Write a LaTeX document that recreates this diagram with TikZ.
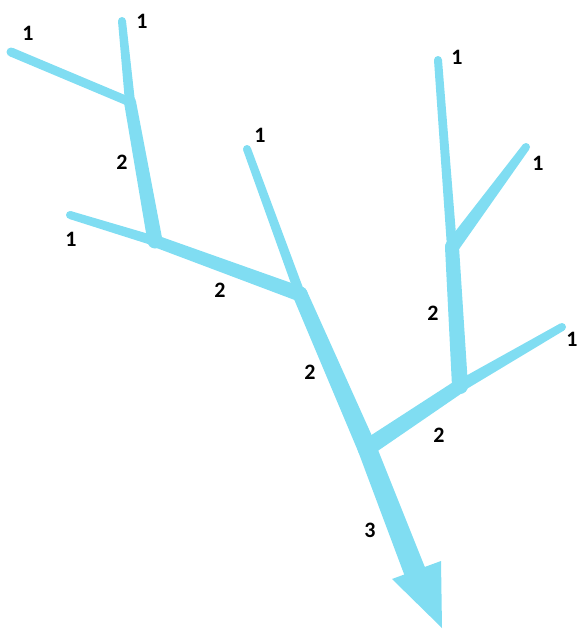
\documentclass[tikz,border=0pt]{standalone}
\usepackage{fontspec}
\setmainfont{Carlito}
\usetikzlibrary{calc}
\definecolor{rivercol}{RGB}{128,221,242}
\tikzset{
  river/.style={fill=rivercol,draw=none},
  lbl/.style={font=\bfseries\fontsize{22}{22}\selectfont,inner sep=0pt,text=black}
}
% tapered segment: from #1 (width #3) to #2 (width #4)
\newcommand\taperseg[4]{%
  \fill[river] ($(#1)!{#3*0.5pt}!90:(#2)$) -- ($(#2)!{#4*0.5pt}!-90:(#1)$)
     -- ($(#2)!{#4*0.5pt}!90:(#1)$) -- ($(#1)!{#3*0.5pt}!-90:(#2)$) -- cycle;
  \fill[river] (#1) circle[radius=#3*0.5pt];
  \fill[river] (#2) circle[radius=#4*0.5pt];
}
\begin{document}
\begin{tikzpicture}[x=1pt,y=-1pt]
\useasboundingbox (0,0) rectangle (579,629);
% points
\coordinate (a1) at (11,52);
\coordinate (a2) at (122,21);
\coordinate (j1) at (130,102);
\coordinate (a3) at (70,215);
\coordinate (j2) at (155,241);
\coordinate (a4) at (247,149);
\coordinate (j3) at (300,294);
\coordinate (j4) at (367,448);
\coordinate (s) at (415,572);
\coordinate (b1) at (438,60);
\coordinate (b2) at (526,147);
\coordinate (j5) at (452,247);
\coordinate (b3) at (562,327);
\coordinate (j6) at (460,386);
% left tree
\taperseg{a1}{j1}{9}{9}
\taperseg{a2}{j1}{8}{10}
\taperseg{j1}{j2}{12}{15}
\taperseg{a3}{j2}{8}{10}
\taperseg{j2}{j3}{12}{15}
\taperseg{a4}{j3}{8}{10}
\taperseg{j3}{j4}{15}{19}
% right tree
\taperseg{b1}{j5}{8}{10}
\taperseg{b2}{j5}{8}{14}
\taperseg{j5}{j6}{14}{16}
\taperseg{b3}{j6}{8}{12}
\taperseg{j6}{j4}{14}{17}
% main trunk and arrow
\taperseg{j4}{s}{19}{22}
\coordinate (hl) at (392,579);
\coordinate (hr) at (441,561);
\coordinate (ht) at (442,628);
\fill[river] (hl) -- (hr) -- (ht) -- cycle;
% labels
\node[lbl] (l1) at (28,33) {1};
\node[lbl] (l2) at (142,21) {1};
\node[lbl] (l3) at (122,162) {2};
\node[lbl] (l4) at (71,239) {1};
\node[lbl] (l5) at (260,135) {1};
\node[lbl] (l6) at (220,290) {2};
\node[lbl] (l7) at (310,372) {2};
\node[lbl] (l8) at (370,530) {3};
\node[lbl] (l9) at (457,57) {1};
\node[lbl] (l10) at (538,163) {1};
\node[lbl] (l11) at (433,313) {2};
\node[lbl] (l12) at (572,339) {1};
\node[lbl] (l13) at (439,435) {2};
\end{tikzpicture}
\end{document}
